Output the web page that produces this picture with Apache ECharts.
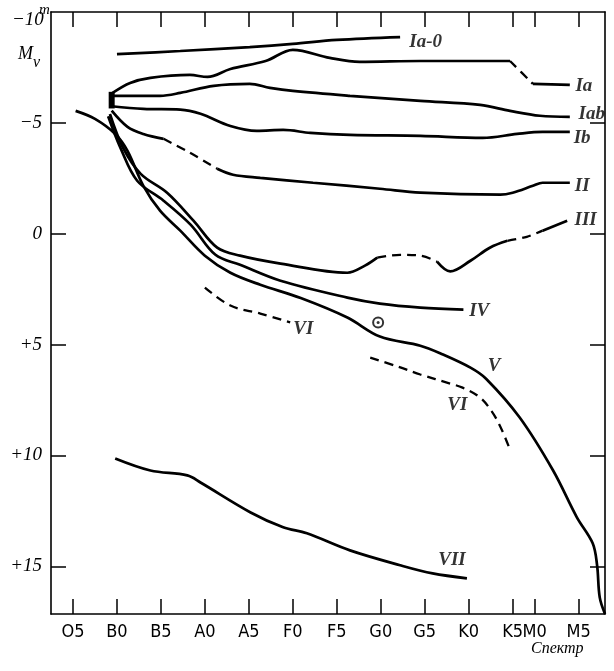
<!DOCTYPE html>
<html><head><meta charset="utf-8">
<script src="https://cdn.jsdelivr.net/npm/echarts@6/dist/echarts.min.js"></script>
<style>html,body{margin:0;padding:0;background:#fff}#c{width:614px;height:671px}</style>
</head><body><div id="c"></div>
<script>
// Spectral classes (x) and absolute magnitude ticks (y)
const spectralClasses = ['O5','B0','B5','A0','A5','F0','F5','G0','G5','K0','K5','M0','M5'];
const spectralPos = [0,5,10,15,20,25,30,35,40,45,50,52.5,57.5];
const magTicks = [-5,0,5,10,15];
const magTickLabels = ['−5','0','+5','+10','+15'];

// Luminosity class sequences: [spectral position, Mv]
const classIa0 = [[5.0,-8.1],[12.2,-8.24],[20.1,-8.42],[25.0,-8.56],[30.0,-8.74],[37.2,-8.87]];
const classIaSolid1 = [[4.5,-6.35],[6.5,-6.8],[8.8,-7.03],[13.3,-7.16],[15.3,-7.07],[17.9,-7.43],[21.9,-7.79],[25.0,-8.29],[29.2,-7.93],[32.6,-7.75],[39.5,-7.79],[49.7,-7.79]];
const classIaDashed = [[49.7,-7.79],[52.3,-6.76]];
const classIaSolid2 = [[52.3,-6.76],[56.5,-6.71]];
const classIab = [[4.5,-6.22],[9.9,-6.22],[12.2,-6.35],[16.0,-6.67],[20.1,-6.76],[22.4,-6.58],[25.0,-6.44],[31.5,-6.22],[39.5,-5.99],[46.3,-5.81],[49.7,-5.54],[53.1,-5.32],[56.5,-5.27]];
const classIb = [[4.4,-5.75],[8.0,-5.63],[12.2,-5.6],[14.5,-5.41],[17.9,-4.86],[20.9,-4.64],[23.9,-4.68],[27.0,-4.55],[31.5,-4.46],[39.5,-4.41],[46.6,-4.32],[50.5,-4.5],[53.4,-4.59],[56.5,-4.59]];
const classIISolid1 = [[4.4,-5.55],[6.2,-4.82],[8.0,-4.5],[10.3,-4.28]];
const classIIDashed = [[10.3,-4.28],[13.3,-3.65],[16.4,-2.93]];
const classIISolid2 = [[16.4,-2.93],[18.2,-2.66],[21.3,-2.52],[27.3,-2.3],[34.9,-2.03],[39.5,-1.85],[48.6,-1.76],[50.0,-1.85],[52.3,-2.16],[53.4,-2.3],[56.5,-2.3]];
const classIIISolid1 = [[4.2,-5.4],[5.7,-3.87],[7.7,-2.7],[10.7,-1.85],[13.7,-0.59],[16.4,0.63],[19.0,0.99],[23.6,1.35],[31.2,1.76],[33.2,1.44],[34.6,1.08]];
const classIIIDashed1 = [[34.6,1.08],[37.2,0.95],[39.5,0.99],[41.4,1.26]];
const classIIISolid2 = [[41.4,1.26],[42.9,1.7],[45.2,1.22],[47.4,0.63],[49.4,0.32]];
const classIIIDashed2 = [[49.4,0.32],[51.6,0.14],[53.4,-0.14]];
const classIIISolid3 = [[53.4,-0.14],[56.2,-0.59]];
const classIV = [[4.0,-5.3],[5.4,-3.87],[7.3,-2.39],[10.3,-1.49],[13.4,-0.4],[16.2,0.95],[19.0,1.4],[23.6,2.12],[31.2,2.88],[34.9,3.15],[39.5,3.33],[44.4,3.42]];
const classV = [[0.3,-5.54],[2.5,-5.18],[4.8,-4.5],[6.2,-3.74],[8.0,-2.16],[9.9,-1.04],[12.2,-0.14],[15.0,0.99],[17.9,1.76],[21.3,2.3],[25.9,2.9],[31.2,3.78],[34.9,4.64],[39.5,5.05],[41.8,5.4],[45.2,6.04],[47.0,6.55],[50.8,8.29],[54.6,10.68],[57.3,12.79],[59.1,13.96],[59.6,14.95],[59.9,16.4],[60.5,17.15]];
const classVIa = [[15.0,2.43],[17.9,3.24],[21.3,3.6],[24.7,4.0]];
const classVIb = [[33.8,5.59],[37.0,6.0],[39.5,6.35],[42.9,6.76],[44.3,6.94],[46.3,7.39],[47.6,8.0],[48.6,8.7],[49.6,9.64]];
const classVII = [[4.8,10.14],[8.8,10.68],[13.0,10.9],[14.5,11.22],[20.2,12.57],[23.9,13.24],[26.6,13.51],[31.5,14.28],[37.2,14.95],[40.9,15.32],[44.8,15.54]];
const knot = [[4.4,-6.4],[4.4,-5.65]];
const sunPoint = [[34.7,4.0]];

// Class labels: [text, spectral position, Mv]
const classLabels = [
  ['Ia-0',40.1,-8.65],['Ia',58.1,-6.67],['Iab',59.0,-5.41],['Ib',57.9,-4.32],
  ['II',57.9,-2.16],['III',58.3,-0.63],['IV',46.2,3.47],['V',47.9,5.95],
  ['VI',26.2,4.28],['VI',43.7,7.75],['VII',43.1,14.73]
];

const chart = echarts.init(document.getElementById('c'), null, {renderer:'canvas'});
const serifI = "'Liberation Serif','DejaVu Serif',serif";
const narrow = "'Liberation Sans Narrow','DejaVu Sans Condensed',sans-serif";
const solid = {color:'#000', width:2.7, type:'solid'};
const dashed = {color:'#000', width:2.3, type:[9,6]};
function line(data, style){
  return {type:'line', data:data, smooth:0.35, showSymbol:false, symbol:'none',
    lineStyle:style, silent:true, animation:false, clip:true};
}
const series = [
  line(classIa0, solid),
  line(classIaSolid1, solid), line(classIaDashed, dashed), line(classIaSolid2, solid),
  line(classIab, solid), line(classIb, solid),
  line(classIISolid1, solid), line(classIIDashed, dashed), line(classIISolid2, solid),
  line(classIIISolid1, solid), line(classIIIDashed1, dashed), line(classIIISolid2, solid),
  line(classIIIDashed2, dashed), line(classIIISolid3, solid),
  line(classIV, solid), line(classV, solid),
  line(classVIa, dashed), line(classVIb, dashed), line(classVII, solid),
  {type:'line', data:knot, showSymbol:false, symbol:'none', lineStyle:{color:'#000', width:6}, animation:false},
  {type:'scatter', data:sunPoint, symbol:'emptyCircle', symbolSize:10, itemStyle:{color:'#000', borderColor:'#000', borderWidth:1.8}, animation:false},
  {type:'scatter', data:sunPoint, symbol:'circle', symbolSize:3, itemStyle:{color:'#000'}, animation:false},
  {type:'scatter', symbolSize:0, animation:false,
    data: classLabels.map(l => ({name:l[0], value:[l[1], l[2]]})),
    label:{show:true, position:'inside', formatter:'{b}', color:'#000',
      fontFamily:serifI, fontStyle:'italic', fontWeight:'bold', fontSize:19}}
];
const xTickStyle = {show:true, inside:true, length:15, lineStyle:{color:'#000', width:1.5}, customValues:spectralPos};
const yTickStyle = {show:true, inside:true, length:15, lineStyle:{color:'#000', width:1.5}, customValues:magTicks};
const axLine = {show:true, onZero:false, lineStyle:{color:'#000', width:1.6}};
chart.setOption({
  animation:false,
  backgroundColor:'#fff',
  grid:{left:51, right:9, top:12, bottom:57},
  xAxis:[
    {type:'value', min:-2.5, max:60.5, position:'bottom', axisLine:axLine, splitLine:{show:false},
     axisTick:xTickStyle,
     axisLabel:{show:true, customValues:spectralPos, margin:9, color:'#000', fontFamily:narrow, fontSize:18,
       formatter:v => { const i = spectralPos.indexOf(v); return i>=0 ? spectralClasses[i] : ''; }}},
    {type:'value', min:-2.5, max:60.5, position:'top', axisLine:axLine, splitLine:{show:false},
     axisTick:xTickStyle, axisLabel:{show:false}}
  ],
  yAxis:[
    {type:'value', min:-10, max:17.15, inverse:true, position:'left', axisLine:axLine, splitLine:{show:false},
     axisTick:yTickStyle,
     axisLabel:{show:true, customValues:magTicks, margin:9, color:'#000', fontFamily:serifI, fontStyle:'italic', fontSize:19,
       formatter:v => { const i = magTicks.indexOf(v); return i>=0 ? magTickLabels[i] : ''; }}},
    {type:'value', min:-10, max:17.15, inverse:true, position:'right', axisLine:axLine, splitLine:{show:false},
     axisTick:yTickStyle, axisLabel:{show:false}}
  ],
  graphic:[
    {type:'text', left:12, top:10, style:{text:'−10', font:"italic 19px 'Liberation Serif'", fill:'#000'}},
    {type:'text', left:39, top:3, style:{text:'m', font:"italic 15px 'Liberation Serif'", fill:'#000'}},
    {type:'text', left:18, top:45, style:{text:'M', font:"italic 18px 'Liberation Serif'", fill:'#000'}},
    {type:'text', left:33, top:55, style:{text:'v', font:"italic 16px 'Liberation Serif'", fill:'#000'}},
    {type:'text', left:531, top:641, style:{text:'Спектр', font:"italic 16px 'Liberation Serif'", fill:'#000'}}
  ],
  series:series
});
</script></body></html>
